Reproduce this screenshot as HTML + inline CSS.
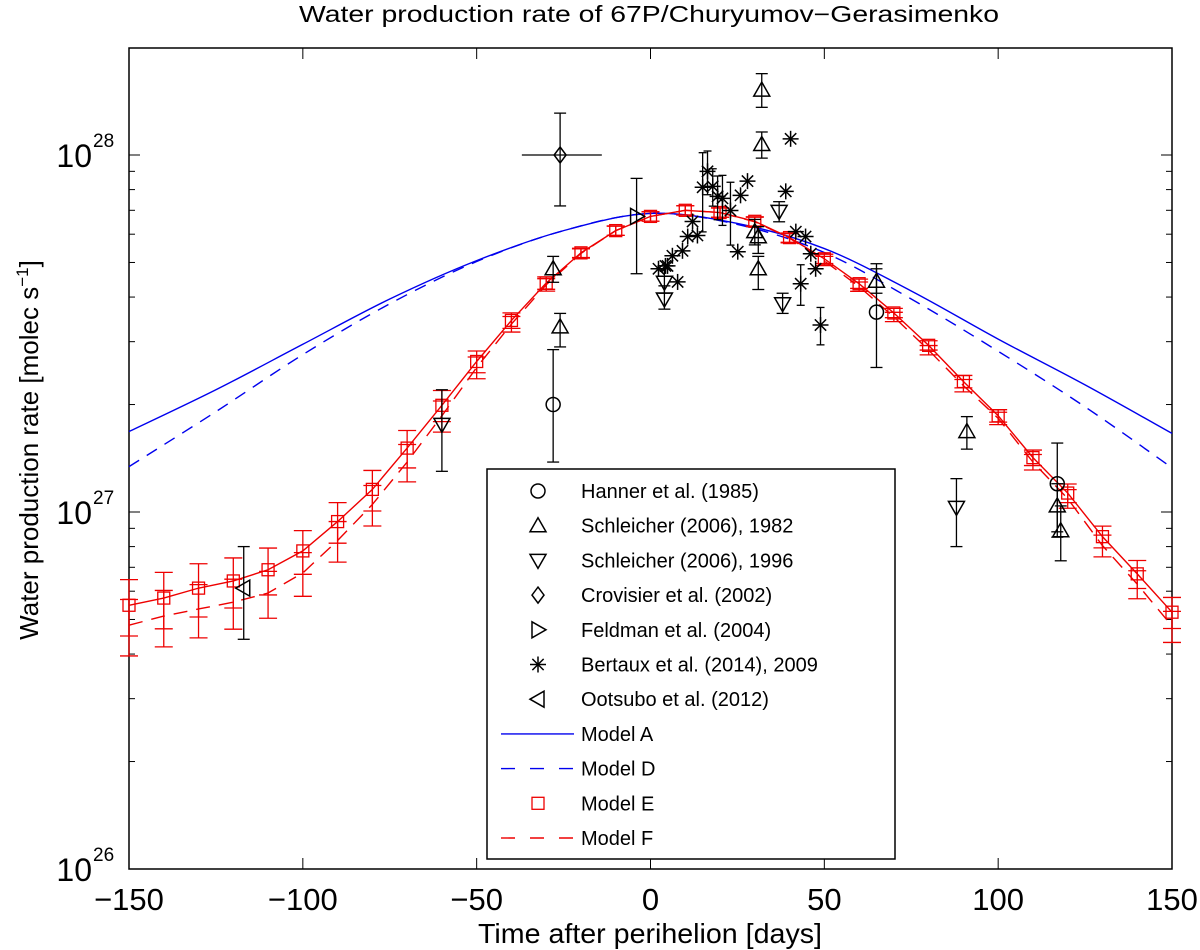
<!DOCTYPE html>
<html><head><meta charset="utf-8"><style>
body{margin:0;background:#fff}
svg{display:block;font-family:"Liberation Sans",sans-serif}
</style></head><body>
<svg id="chart" width="1200" height="950">
<text x="649" y="22" text-anchor="middle" font-size="23" textLength="700" lengthAdjust="spacingAndGlyphs">Water production rate of 67P/Churyumov−Gerasimenko</text>
<text x="650" y="943" text-anchor="middle" font-size="28" textLength="344" lengthAdjust="spacingAndGlyphs">Time after perihelion [days]</text>
<text transform="translate(38,450) rotate(-90)" text-anchor="middle" font-size="26">Water production rate [molec s<tspan dy="-10" font-size="17">−1</tspan><tspan dy="10">]</tspan></text>
<g id="plot"></g>
</svg>
<script>
// ---- data (rates in units of 1e27 molec/s) ----
const daysE=[-150,-140,-130,-120,-110,-100,-90,-80,-70,-60,-50,-40,-30,-20,-10,0,10,20,30,40,50,60,70,80,90,100,110,120,130,140,150];
const modelE=[0.548,0.574,0.612,0.641,0.689,0.778,0.94,1.157,1.51,1.99,2.64,3.44,4.38,5.32,6.14,6.73,7.0,6.9,6.52,5.87,5.12,4.36,3.61,2.93,2.32,1.86,1.42,1.13,0.853,0.671,0.524];
const modelF=[0.482,0.511,0.535,0.559,0.593,0.675,0.832,1.05,1.38,1.86,2.54,3.36,4.33,5.3,6.14,6.73,7.0,6.9,6.5,5.85,5.05,4.28,3.52,2.84,2.26,1.83,1.38,1.09,0.805,0.628,0.479];
const errE=[0.18,0.18,0.17,0.16,0.15,0.14,0.13,0.13,0.12,0.1,0.07,0.05,0.04,0.03,0.03,0.03,0.03,0.03,0.03,0.03,0.03,0.03,0.03,0.03,0.04,0.04,0.05,0.06,0.07,0.09,0.1];
const daysAD=[-150,-125,-100,-75,-50,-25,0,25,50,75,100,125,150];
const modelA=[1.68,2.2,2.95,3.95,5.06,6.14,6.86,6.43,5.47,4.16,3.05,2.27,1.66];
const modelD=[1.34,1.91,2.76,3.83,5.03,6.14,6.86,6.39,5.33,3.95,2.82,1.97,1.33];
const hannerDay=[-28,65,117], hannerVal=[2.0,3.63,1.2], hannerLo=[1.38,2.54,0.85], hannerHi=[2.85,4.96,1.56];
const s82Day=[-28,-26,32,32,30,31,31,65,91,117,118], s82Val=[4.8,3.3,15.2,10.7,6.1,5.9,4.8,4.43,1.68,1.04,0.886];
const s82Lo=[4.4,2.9,13.6,9.8,5.6,5.3,4.2,4.1,1.5,0.88,0.73], s82Hi=[5.2,3.6,16.9,11.6,6.6,6.3,5.2,4.8,1.85,1.2,1.04];
const s96Day=[-60,4,4,37,38,88], s96Val=[1.76,4.4,3.95,6.95,3.83,1.03];
const s96Lo=[1.3,4.1,3.7,6.5,3.6,0.8], s96Hi=[2.2,4.8,4.3,7.4,4.1,1.24];
const crovDay=[-26], crovVal=[10], crovLo=[7.2], crovHi=[13.1], crovXLo=[-37], crovXHi=[-14];
const feldDay=[-4], feldVal=[6.73], feldLo=[4.65], feldHi=[8.6];
const ootDay=[-117], ootVal=[0.612], ootLo=[0.44], ootHi=[0.8];
const bertDay=[2.3,4.3,4.9,6.3,7.8,9.2,10.7,12.1,13.5,15.0,16.4,17.9,19.3,20.7,23.0,25.1,25.9,27.9,40.3,38.9,41.8,44.6,46.1,47.5,43.2,48.9];
const bertVal=[4.8,4.89,4.89,5.22,4.41,5.39,5.91,6.51,5.95,8.12,9.0,8.17,7.66,7.56,6.99,5.36,7.71,8.45,11.1,7.91,6.1,5.91,5.29,4.8,4.36,3.34];
const bertErr=[0,0,0,0,0,0,0,0,0,0.25,0.14,0.12,0.14,0.16,0.2,0,0,0,0,0,0,0,0,0,0.13,0.12];
const xTicks=[-150,-100,-50,0,50,100,150];
const yDecades=[26,27,28];

// ---- axes ----
const L=129,R=1172,T=48,B=869,DEC=357;
const X=d=>L+(d+150)*(R-L)/300;
const Y=v=>B-(Math.log10(v)+1)*DEC;
const NS='http://www.w3.org/2000/svg';
const plot=document.getElementById('plot');
function mk(tag,attrs,parent){const e=document.createElementNS(NS,tag);for(const k in attrs)e.setAttribute(k,attrs[k]);(parent||plot).appendChild(e);return e;}

const axes=mk('g',{});


const frame=mk('rect',{x:L,y:T,width:R-L,height:B-T,fill:'none',stroke:'#000','stroke-width':1.5},axes);


xTicks.forEach(t=>{
  const x=X(t);
  mk('line',{x1:x,y1:B,x2:x,y2:B-11,stroke:'#000'},axes);
  mk('line',{x1:x,y1:T,x2:x,y2:T+11,stroke:'#000'},axes);
  const tx=mk('text',{x:x,y:910,'text-anchor':'middle','font-size':31},axes);
  tx.textContent=(t<0?'−':'')+Math.abs(t);
  
  
});
yDecades.forEach((p,i)=>{
  const v=Math.pow(10,p-27);
  const y=Y(v);
  mk('line',{x1:L,y1:y,x2:L+11,y2:y,stroke:'#000'},axes);
  mk('line',{x1:R,y1:y,x2:R-11,y2:y,stroke:'#000'},axes);
  const tx=mk('text',{x:92,y:y+12,'text-anchor':'end','font-size':32},axes);
  tx.textContent='10';
  
  
  const sp=mk('text',{x:93,y:y-8,'font-size':19},axes);
  sp.textContent=String(p);
  if(i<2){for(let m=2;m<=9;m++){const ym=Y(v*m);if(ym<T)continue;
    mk('line',{x1:L,y1:ym,x2:L+6,y2:ym,stroke:'#000'},axes);
    mk('line',{x1:R,y1:ym,x2:R-6,y2:ym,stroke:'#000'},axes);}}
});

// ---- helpers ----
function catmull(pts){let d='M'+pts[0][0]+','+pts[0][1];for(let i=0;i<pts.length-1;i++){const p0=pts[Math.max(i-1,0)],p1=pts[i],p2=pts[i+1],p3=pts[Math.min(i+2,pts.length-1)];
 d+=' C'+(p1[0]+(p2[0]-p0[0])/6)+','+(p1[1]+(p2[1]-p0[1])/6)+' '+(p2[0]-(p3[0]-p1[0])/6)+','+(p2[1]-(p3[1]-p1[1])/6)+' '+p2[0]+','+p2[1];}return d;}
function ebar(g,x,lo,hi,col,cap){mk('line',{x1:x,y1:Y(lo),x2:x,y2:Y(hi),stroke:col,'stroke-width':1.3},g);
 mk('line',{x1:x-cap,y1:Y(lo),x2:x+cap,y2:Y(lo),stroke:col,'stroke-width':1.3},g);
 mk('line',{x1:x-cap,y1:Y(hi),x2:x+cap,y2:Y(hi),stroke:col,'stroke-width':1.3},g);}
function marker(g,type,x,y,col){const s=8;let e;
 if(type==='o')e=mk('circle',{cx:x,cy:y,r:7,fill:'none',stroke:col,'stroke-width':1.5},g);
 else if(type==='^')e=mk('polygon',{points:`${x},${y-s} ${x-s},${y+s*0.75} ${x+s},${y+s*0.75}`,fill:'none',stroke:col,'stroke-width':1.5},g);
 else if(type==='v')e=mk('polygon',{points:`${x},${y+s} ${x-s},${y-s*0.75} ${x+s},${y-s*0.75}`,fill:'none',stroke:col,'stroke-width':1.5},g);
 else if(type==='>')e=mk('polygon',{points:`${x+s},${y} ${x-s*0.75},${y-s} ${x-s*0.75},${y+s}`,fill:'none',stroke:col,'stroke-width':1.5},g);
 else if(type==='<')e=mk('polygon',{points:`${x-s},${y} ${x+s*0.75},${y-s} ${x+s*0.75},${y+s}`,fill:'none',stroke:col,'stroke-width':1.5},g);
 else if(type==='d')e=mk('polygon',{points:`${x},${y-s} ${x+s*0.75},${y} ${x},${y+s} ${x-s*0.75},${y}`,fill:'none',stroke:col,'stroke-width':1.5},g);
 else if(type==='s')e=mk('rect',{x:x-6,y:y-6,width:12,height:12,fill:'none',stroke:col,'stroke-width':1.3},g);
 else if(type==='*'){e=mk('g',{},g);const r=8;for(let a=0;a<4;a++){const t=a*Math.PI/4;mk('line',{x1:x-r*Math.cos(t),y1:y-r*Math.sin(t),x2:x+r*Math.cos(t),y2:y+r*Math.sin(t),stroke:col,'stroke-width':1.5},e);}}
 return e;}

// ---- models ----
const gA=mk('g',{});


mk('path',{d:catmull(daysAD.map((d,i)=>[X(d),Y(modelA[i])])),fill:'none',stroke:'#0000ee','stroke-width':1.4},gA);
const gD=mk('g',{});


mk('path',{d:catmull(daysAD.map((d,i)=>[X(d),Y(modelD[i])])),fill:'none',stroke:'#0000ee','stroke-width':1.4,'stroke-dasharray':'12 9'},gD);
const gF=mk('g',{});


mk('polyline',{points:daysE.map((d,i)=>X(d)+','+Y(modelF[i])).join(' '),fill:'none',stroke:'#ee0000','stroke-width':1.4,'stroke-dasharray':'14 9'},gF);
daysE.forEach((d,i)=>ebar(gF,X(d),modelF[i]*(1-errE[i]),modelF[i]*(1+errE[i]),'#ee0000',9));
const gE=mk('g',{});


mk('polyline',{points:daysE.map((d,i)=>X(d)+','+Y(modelE[i])).join(' '),fill:'none',stroke:'#ee0000','stroke-width':1.4},gE);
daysE.forEach((d,i)=>{ebar(gE,X(d),modelE[i]*(1-errE[i]),modelE[i]*(1+errE[i]),'#ee0000',9);
 const m=marker(gE,'s',X(d),Y(modelE[i]),'#ee0000');
 
 });

// ---- observations ----
function series(name,type,days,vals,lo,hi){const g=mk('g',{});
 
 
 days.forEach((d,i)=>{if(lo)ebar(g,X(d),lo[i],hi[i],'#000',6);
  const m=marker(g,type,X(d),Y(vals[i]),'#000');
  
  });return g;}
series('hanner-1985','o',hannerDay,hannerVal,hannerLo,hannerHi);
series('schleicher-1982','^',s82Day,s82Val,s82Lo,s82Hi);
series('schleicher-1996','v',s96Day,s96Val,s96Lo,s96Hi);
const gc=series('crovisier-2002','d',crovDay,crovVal,crovLo,crovHi);
mk('line',{x1:X(crovXLo[0]),y1:Y(crovVal[0]),x2:X(crovXHi[0]),y2:Y(crovVal[0]),stroke:'#000','stroke-width':1.3},gc);
series('feldman-2004','>',feldDay,feldVal,feldLo,feldHi);
series('ootsubo-2012','<',ootDay,ootVal,ootLo,ootHi);
const bLo=bertVal.map((v,i)=>v*(1-bertErr[i])), bHi=bertVal.map((v,i)=>v*(1+bertErr[i]));
const gb=mk('g',{});


bertDay.forEach((d,i)=>{if(bertErr[i]>0)ebar(gb,X(d),bLo[i],bHi[i],'#000',4);
 const m=marker(gb,'*',X(d),Y(bertVal[i]),'#000');
 
 });

// ---- legend ----
const lg=mk('g',{});


mk('rect',{x:487,y:469,width:408,height:390,fill:'#fff',stroke:'#000','stroke-width':1.5},lg);
const legLabels=['Hanner et al. (1985)','Schleicher (2006), 1982','Schleicher (2006), 1996','Crovisier et al. (2002)','Feldman et al. (2004)','Bertaux et al. (2014), 2009','Ootsubo et al. (2012)','Model A','Model D','Model E','Model F'];
const legTypes=['o','^','v','d','>','*','<','lineA','lineD','s','lineF'];
legLabels.forEach((lab,i)=>{const y=491+i*34.7;const eg=mk('g',{},lg);
 
 
 const t=legTypes[i];
 if(t==='lineA')mk('line',{x1:501,y1:y,x2:574,y2:y,stroke:'#0000ee','stroke-width':1.4},eg);
 else if(t==='lineD')mk('line',{x1:501,y1:y,x2:574,y2:y,stroke:'#0000ee','stroke-width':1.4,'stroke-dasharray':'14 15'},eg);
 else if(t==='lineF')mk('line',{x1:501,y1:y,x2:574,y2:y,stroke:'#ee0000','stroke-width':1.4,'stroke-dasharray':'14 15'},eg);
 else marker(eg,t,538,y,t==='s'?'#ee0000':'#000');
 const tx=mk('text',{x:581,y:y+7,'font-size':20},eg);tx.textContent=lab;});
</script>
</body></html>
